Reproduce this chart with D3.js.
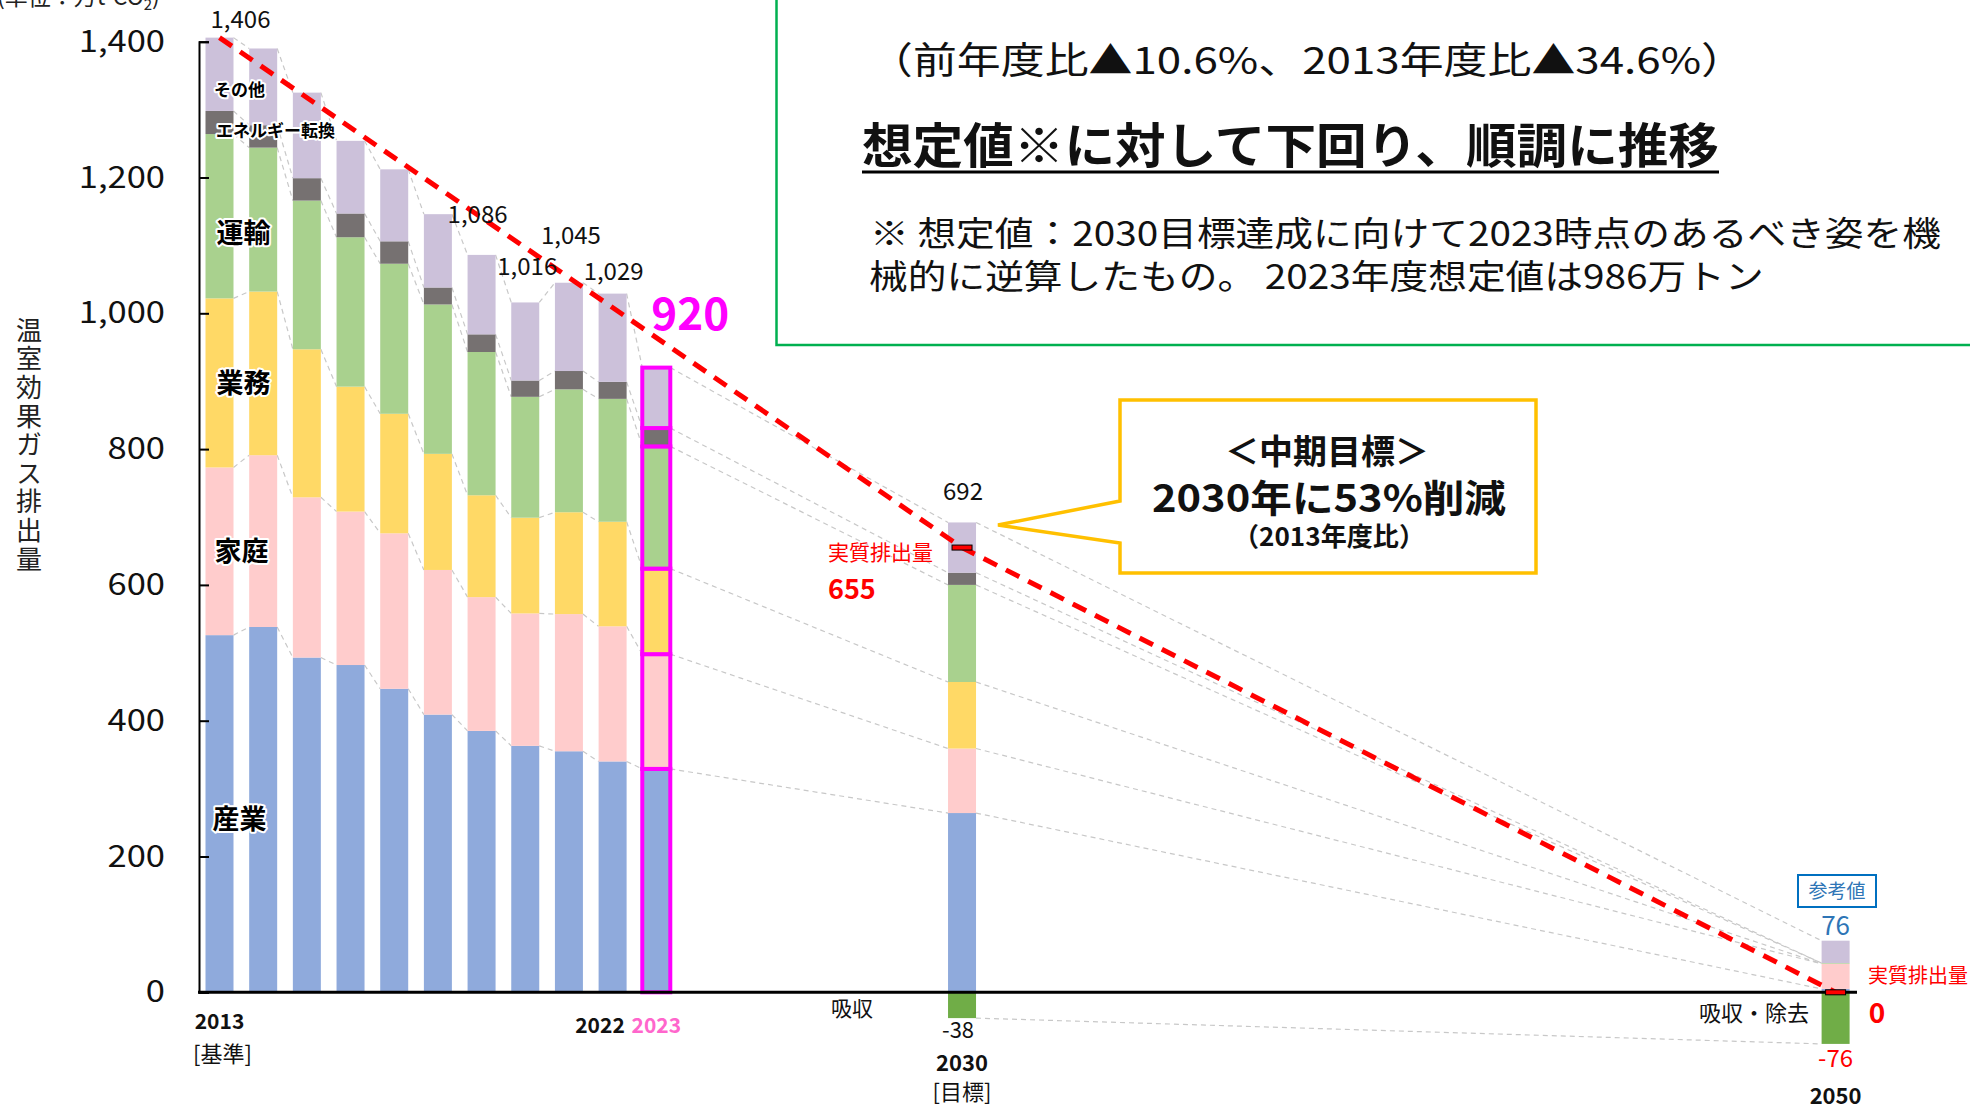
<!DOCTYPE html>
<html>
<head>
<meta charset="utf-8">
<script src="https://cdn.jsdelivr.net/npm/d3@7"></script>
<style>
  body { margin: 0; background: #fff; }
  text { font-family: "Noto Sans CJK JP", "Noto Sans", sans-serif; }
</style>
</head>
<body>
<div id="chart"></div>
<script>
// --- data (万t-CO2) ---
var years   = [2013, 2014, 2015, 2016, 2017, 2018, 2019, 2020, 2021, 2022, 2023, 2030, 2050];
var sangyo  = [526, 538, 493, 482, 447, 409, 385, 363, 355, 340, 329, 264, 5];
var katei   = [247, 253, 236, 226, 229, 213, 197, 195, 202, 199, 169, 95, 37];
var gyomu   = [249, 241, 218, 184, 176, 171, 150, 141, 150, 154, 126, 98, 0];
var unyu    = [242, 212, 219, 220, 221, 220, 211, 178, 181, 181, 180, 143, 1];
var tenkan  = [34, 33, 33, 35, 33, 25, 26, 24, 27, 25, 27, 18, 0];
var sonota  = [108, 113, 126, 107, 106, 108, 117, 115, 130, 130, 89, 74, 33];
var kyushu  = [0, 0, 0, 0, 0, 0, 0, 0, 0, 0, 0, -38, -76];

var sectorKeys   = ["産業", "家庭", "業務", "運輸", "エネルギー転換", "その他"];
var sectorColors = ["#8FAADC", "#FFCCCC", "#FFD966", "#A9D18E", "#767171", "#CCC1DA"];
var yTicks = [0, 200, 400, 600, 800, 1000, 1200, 1400];

var labeledYears = [2013, 2019, 2020, 2021, 2022, 2023, 2030, 2050];
var targetYears  = [2013, 2030, 2050];
var targetValues = [1406, 655, 0];
var netYears  = [2030, 2050];
var netValues = [655, 0];

// label nudges (layout only)
var labelDx = {2013: 21, 2019: -4, 2020: 2, 2021: 2, 2022: 1, 2023: 34, 2030: 1, 2050: 0};
var labelDy = {2013: -10, 2019: -32, 2020: -27, 2021: -39, 2022: -14, 2023: -38, 2030: -22, 2050: -6};

var W = 1970, H = 1105;
var svg = d3.select("#chart").append("svg")
  .attr("width", W).attr("height", H);

var x = d3.scaleLinear().domain([2013, 2050]).range([219.5, 1835.6]);
var y = d3.scaleLinear().domain([0, 1400]).range([992.3, 41.7]);
var bw = 28;

var rows = years.map(function (yr, i) {
  return {year: yr, "産業": sangyo[i], "家庭": katei[i], "業務": gyomu[i],
          "運輸": unyu[i], "エネルギー転換": tenkan[i], "その他": sonota[i], kyushu: kyushu[i]};
});
var series = d3.stack().keys(sectorKeys)(rows);

function stretch(sel, f) {
  sel.each(function () {
    var w = this.getComputedTextLength();
    d3.select(this).attr("textLength", w * f).attr("lengthAdjust", "spacingAndGlyphs");
  });
}
function fit(sel, w) {
  sel.attr("textLength", w).attr("lengthAdjust", "spacingAndGlyphs");
}

// green summary box
svg.append("rect")
  .attr("x", 776.5).attr("y", -10).attr("width", 1300).attr("height", 355)
  .attr("fill", "none").attr("stroke", "#00B050").attr("stroke-width", 2.5);

// connectors between bars
var conn = svg.append("g").attr("id", "connectors")
  .attr("stroke", "#C8C8C8").attr("stroke-width", 1.2)
  .attr("stroke-dasharray", "5,4").attr("fill", "none");
for (var i = 0; i < years.length - 1; i++) {
  series.forEach(function (s) {
    conn.append("line")
      .attr("x1", x(years[i]) + bw / 2).attr("y1", y(s[i][1]))
      .attr("x2", x(years[i + 1]) - bw / 2).attr("y2", y(s[i + 1][1]));
  });
  if (kyushu[i] < 0) {
    conn.append("line")
      .attr("x1", x(years[i]) + bw / 2).attr("y1", y(kyushu[i]))
      .attr("x2", x(years[i + 1]) - bw / 2).attr("y2", y(kyushu[i + 1]));
  }
}

// stacked bars
var bars = svg.append("g").attr("id", "bars");
series.forEach(function (s, k) {
  bars.append("g").attr("fill", sectorColors[k])
    .selectAll("rect")
    .data(s)
    .enter()
    .append("rect")
    .attr("x", d => x(d.data.year) - bw / 2)
    .attr("y", d => y(d[1]))
    .attr("width", bw)
    .attr("height", d => y(d[0]) - y(d[1]))
    .attr("stroke", d => d.data.year == 2023 ? "#FF00FF" : "none")
    .attr("stroke-width", 4);
});

// absorption bars
bars.append("g").attr("fill", "#70AD47")
  .selectAll("rect")
  .data(rows.filter(d => d.kyushu < 0))
  .enter()
  .append("rect")
  .attr("x", d => x(d.year) - bw / 2)
  .attr("y", y(0))
  .attr("width", bw)
  .attr("height", d => y(d.kyushu) - y(0));

// axes
var yAxis = svg.append("g").attr("transform", "translate(199,0)");
yAxis.call(d3.axisLeft(y).tickValues(d3.range(100, 1400, 200)).tickSize(-10).tickFormat(""));
yAxis.call(d3.axisLeft(y).tickValues(yTicks).tickSize(-10).tickPadding(34).tickFormat(d3.format(",")));
yAxis.selectAll("path.domain").attr("stroke", "#000").attr("stroke-width", 2);
yAxis.selectAll(".tick line").attr("stroke", "#000").attr("stroke-width", 2);
yAxis.selectAll(".tick text")
  .attr("font-size", 30).attr("fill", "#111")
  .attr("font-family", "\"Noto Sans CJK JP\", sans-serif");
stretch(yAxis.selectAll(".tick text"), 1.15);

svg.append("line")
  .attr("x1", 198).attr("x2", 1857)
  .attr("y1", y(0)).attr("y2", y(0))
  .attr("stroke", "#000").attr("stroke-width", 3);

// target path (red dashed)
svg.append("path")
  .datum(targetYears.map((yr, i) => [yr, targetValues[i]]))
  .attr("d", d3.line().x(d => x(d[0])).y(d => y(d[1])))
  .attr("fill", "none").attr("stroke", "#FF0000")
  .attr("stroke-width", 5).attr("stroke-dasharray", "15,10");

// net emission markers
svg.append("g").selectAll("rect")
  .data(netYears.map((yr, i) => [yr, netValues[i]]))
  .enter().append("rect")
  .attr("x", d => x(d[0]) - 10).attr("y", d => y(d[1]) - 2.5)
  .attr("width", 20).attr("height", 5)
  .attr("fill", "#FF0000").attr("stroke", "#000").attr("stroke-width", 1);

// total labels
var totals = rows.map(d => d3.sum(sectorKeys, k => d[k]));
svg.append("g").selectAll("text")
  .data(labeledYears)
  .enter().append("text")
  .attr("x", d => x(d) + labelDx[d])
  .attr("y", d => y(totals[years.indexOf(d)]) + labelDy[d])
  .attr("text-anchor", "middle")
  .attr("font-size", d => d == 2023 ? 44 : (d == 2050 ? 26 : 24))
  .attr("font-weight", d => d == 2023 ? "bold" : "normal")
  .attr("fill", d => d == 2023 ? "#FF00FF" : (d == 2050 ? "#2E75B6" : "#111"))
  .text(d => d3.format(",")(totals[years.indexOf(d)]));

// sector labels inside 2013 bar
var secLabelSize = [27, 27, 27, 27, 17, 17];
var secLabelDx = [20, 22, 24, 24, 56, 20];
var secLabelDy = [15, 10, 10, 27, 0, 0];
svg.append("g").selectAll("text")
  .data(series)
  .enter().append("text")
  .attr("x", (s, k) => x(2013) + secLabelDx[k])
  .attr("y", (s, k) => k < 4 ? y((s[0][0] + s[0][1]) / 2) + secLabelDy[k] : (k == 4 ? 137 : 96))
  .attr("text-anchor", "middle")
  .attr("font-size", (s, k) => secLabelSize[k])
  .attr("font-weight", "bold")
  .attr("fill", "#000")
  .attr("stroke", "#fff").attr("stroke-width", 4)
  .attr("stroke-linejoin", "round").attr("paint-order", "stroke")
  .text(s => s.key);

// y title (vertical) & unit
svg.append("text")
  .attr("x", 29).attr("y", 317)
  .attr("writing-mode", "vertical-rl")
  .attr("font-size", 26).attr("letter-spacing", 2.6).attr("fill", "#222")
  .text("温室効果ガス排出量");

var unit = svg.append("text").attr("x", -3).attr("y", 5).attr("font-size", 23).attr("fill", "#222");
unit.append("tspan").text("(単位：万t-CO");
unit.append("tspan").attr("font-size", 15).attr("dy", 5).text("2");
unit.append("tspan").attr("dy", -5).text(")");

// annotation helper
function ann(t, px, py, o) {
  o = o || {};
  var el = svg.append("text")
    .attr("x", px).attr("y", py)
    .attr("text-anchor", o.anchor || "middle")
    .attr("font-size", o.size || 22)
    .attr("font-weight", o.bold ? "bold" : "normal")
    .attr("fill", o.color || "#111")
    .text(t);
  if (o.w) fit(el, o.w);
  return el;
}

// x labels
ann("2013", x(2013), 1029, {size: 21, bold: true});
ann("[基準]", x(2013) + 3, 1062, {size: 22});
ann("2022", 600, 1033, {size: 21, bold: true});
ann("2023", x(2023), 1033, {size: 21, bold: true, color: "#FF66CC"});
ann("吸収", 852, 1016, {size: 21});
ann("-38", x(2030) - 4, 1038, {size: 22});
ann("2030", x(2030), 1071, {size: 22, bold: true});
ann("[目標]", x(2030), 1100, {size: 22});
ann("吸収・除去", 1809, 1021, {size: 22, anchor: "end"});
ann("-76", x(2050), 1067, {size: 24, color: "#FF0000"});
ann("2050", x(2050), 1104, {size: 22, bold: true});

// net emission labels
ann("実質排出量", 828, 560, {size: 21, anchor: "start", color: "#FF0000"});
ann("655", 828, 599, {size: 27, bold: true, anchor: "start", color: "#FF0000"});
ann("実質排出量", 1868, 983, {size: 20, anchor: "start", color: "#FF0000"});
ann("0", 1877, 1023, {size: 28, bold: true, color: "#FF0000"});

// reference-value box
svg.append("rect").attr("x", 1798).attr("y", 875).attr("width", 78).attr("height", 32)
  .attr("fill", "#fff").attr("stroke", "#0070C0").attr("stroke-width", 2);
ann("参考値", 1837, 898, {size: 19, color: "#2E75B6"});

// callout
svg.append("path")
  .attr("d", "M1120,400 L1536,400 L1536,573 L1120,573 L1120,543 L998,525 L1120,501 Z")
  .attr("fill", "#fff").attr("stroke", "#FFC000").attr("stroke-width", 3.5);
ann("＜中期目標＞", 1327, 464, {size: 34, bold: true});
ann("2030年に53%削減", 1329, 512, {size: 38, bold: true, w: 354});
ann("（2013年度比）", 1329, 546, {size: 26, bold: true, w: 192});

// summary text
ann("（前年度比▲10.6%、2013年度比▲34.6%）", 869, 74, {size: 37, anchor: "start", w: 876});
ann("想定値※に対して下回り、順調に推移", 862, 163, {size: 48, bold: true, anchor: "start", w: 857});
svg.append("line").attr("x1", 862).attr("x2", 1719).attr("y1", 172).attr("y2", 172)
  .attr("stroke", "#000").attr("stroke-width", 3);
var l3 = ann("※ 想定値：2030目標達成に向けて2023時点のあるべき姿を機", 870, 246, {size: 34, anchor: "start"});
var f3 = 1071 / l3.node().getComputedTextLength();
fit(l3, 1071);
var l4 = ann("械的に逆算したもの。 2023年度想定値は986万トン", 869, 289, {size: 34, anchor: "start"});
stretch(l4, f3);
</script>
</body>
</html>
